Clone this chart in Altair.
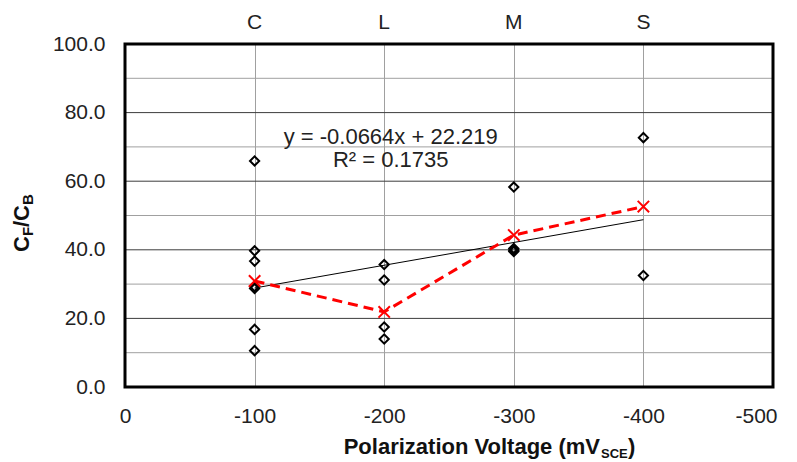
import altair as alt
import pandas as pd

# ---- data ----
groups = ["C", "L", "M", "S"]
group_voltage = [-100, -200, -300, -400]

c_vals = [65.9, 39.7, 36.7, 29.3, 28.7, 16.8, 10.6]
l_vals = [35.7, 31.2, 17.5, 14.0]
m_vals = [58.3, 40.4, 39.9, 39.5]
s_vals = [72.7, 32.5]
mean_vals = [30.9, 21.9, 44.3, 52.6]

slope = -0.0664
intercept = 22.219
eq_lines = ["y = -0.0664x + 22.219", "R² = 0.1735"]

y_ticks = [0, 10, 20, 30, 40, 50, 60, 70, 80, 90, 100]
x_ticks = [0, -100, -200, -300, -400, -500]

FONT = "Liberation Sans"

pts = []
for v, vals in zip(group_voltage, [c_vals, l_vals, m_vals, s_vals]):
    for val in vals:
        pts.append({"v": v, "r": val})
pts_df = pd.DataFrame(pts)
mean_df = pd.DataFrame({"v": group_voltage, "r": mean_vals, "g": groups})
trend_df = pd.DataFrame({"v": [group_voltage[0], group_voltage[-1]]})
trend_df["r"] = slope * trend_df["v"] + intercept
eq_df = pd.DataFrame({"t": eq_lines, "v": [-205, -205], "r": [70.8, 64.1]})
grid_df = pd.DataFrame({"r": y_ticks})
grid_df["major"] = grid_df["r"] % 20 == 0

xs = alt.Scale(domain=[0, -500], nice=False, zero=False)
ys = alt.Scale(domain=[0, 100], nice=False)

x_axis = alt.Axis(values=x_ticks, labelExpr="'' + datum.value", title=None, grid=True,
                  ticks=False, domain=False, labelPadding=18, labelFontSize=21,
                  labelFont=FONT, labelColor="#222222", gridColor="#a0a0a0", gridWidth=1,
                  labelOffset={"condition": {"test": "datum.value === -500", "value": -17},
                               "value": 0},
                  labelFlush=False, labelOverlap=False)
y_axis = alt.Axis(values=y_ticks, title=None, grid=False, ticks=False, domain=False,
                  labelExpr="datum.value % 20 === 0 ? format(datum.value, '.1f') : ''",
                  labelPadding=20, labelFontSize=21, labelFont=FONT,
                  labelColor="#222222", labelBaseline="middle",
                  labelFlush=False, labelOverlap=False)

X = alt.X("v:Q", scale=xs, axis=x_axis)
Y = alt.Y("r:Q", scale=ys, axis=y_axis)

minor_grid = alt.Chart(grid_df).transform_filter("!datum.major").mark_rule(
    color="#a0a0a0", strokeWidth=1).encode(y=alt.Y("r:Q", scale=ys))
major_grid = alt.Chart(grid_df).transform_filter("datum.major").mark_rule(
    color="#3c3c3c", strokeWidth=1).encode(y=alt.Y("r:Q", scale=ys))

diamonds = alt.Chart(pts_df).mark_point(shape="diamond", filled=False, color="black",
                                        strokeWidth=2, size=85, opacity=1).encode(x=X, y=Y)

trend = alt.Chart(trend_df).mark_line(color="black", strokeWidth=1).encode(
    x=alt.X("v:Q", scale=xs), y=alt.Y("r:Q", scale=ys))

mean_line = alt.Chart(mean_df).mark_line(color="#ff0000", strokeWidth=3,
                                         strokeDash=[10, 6]).encode(
    x=alt.X("v:Q", scale=xs), y=alt.Y("r:Q", scale=ys))

mean_pts = alt.Chart(mean_df).mark_point(shape="M-1,-1L1,1M-1,1L1,-1", filled=False,
                                         color="#ff0000", strokeWidth=2, size=130,
                                         opacity=1).encode(
    x=alt.X("v:Q", scale=xs), y=alt.Y("r:Q", scale=ys))

top_labels = alt.Chart(mean_df).mark_text(font=FONT, fontSize=21, color="#222222",
                                          baseline="alphabetic", align="center").encode(
    x=alt.X("v:Q", scale=xs), y=alt.value(-15), text="g:N")

eq_text = alt.Chart(eq_df).mark_text(font=FONT, fontSize=22, color="#222222",
                                     baseline="alphabetic", align="center").encode(
    x=alt.X("v:Q", scale=xs), y=alt.Y("r:Q", scale=ys), text="t:N")

frame = alt.Chart(pd.DataFrame({"f": [0]})).mark_rect(
    filled=False, stroke="black", strokeWidth=3).encode(
    x=alt.value(0), x2=alt.value(648), y=alt.value(0), y2=alt.value(343))


def piece(text, x, y, size, angle=0, align="left", bold=True):
    return alt.Chart(pd.DataFrame({"t": [text]})).mark_text(
        text=text, font=FONT, fontSize=size, fontWeight="bold" if bold else "normal",
        color="#111111", align=align, baseline="alphabetic", angle=angle
    ).encode(x=alt.value(x), y=alt.value(y))


# x axis title with subscript
x_title = [
    piece("Polarization Voltage (mV", 475, 410, 22, align="right"),
    piece("SCE", 476, 414, 13),
    piece(")", 503, 410, 22),
]
# y axis title with subscripts (rotated)
y_title = [
    piece("C", -96, 208, 22, angle=270),
    piece("F", -92, 192, 15, angle=270),
    piece("/", -96, 183, 22, angle=270),
    piece("C", -96, 177, 22, angle=270),
    piece("B", -92, 161, 15, angle=270),
]

chart = alt.layer(minor_grid, major_grid, diamonds, trend, mean_line, mean_pts,
                  top_labels, eq_text, frame, *x_title, *y_title).properties(
    width=648, height=343,
    autosize=alt.AutoSizeParams(type="none"),
    padding={"left": 125, "top": 44, "right": 24, "bottom": 75},
).configure_view(stroke=None).configure(background="white")

chart.save("out.html", embed_options={"renderer": "svg", "actions": False})
